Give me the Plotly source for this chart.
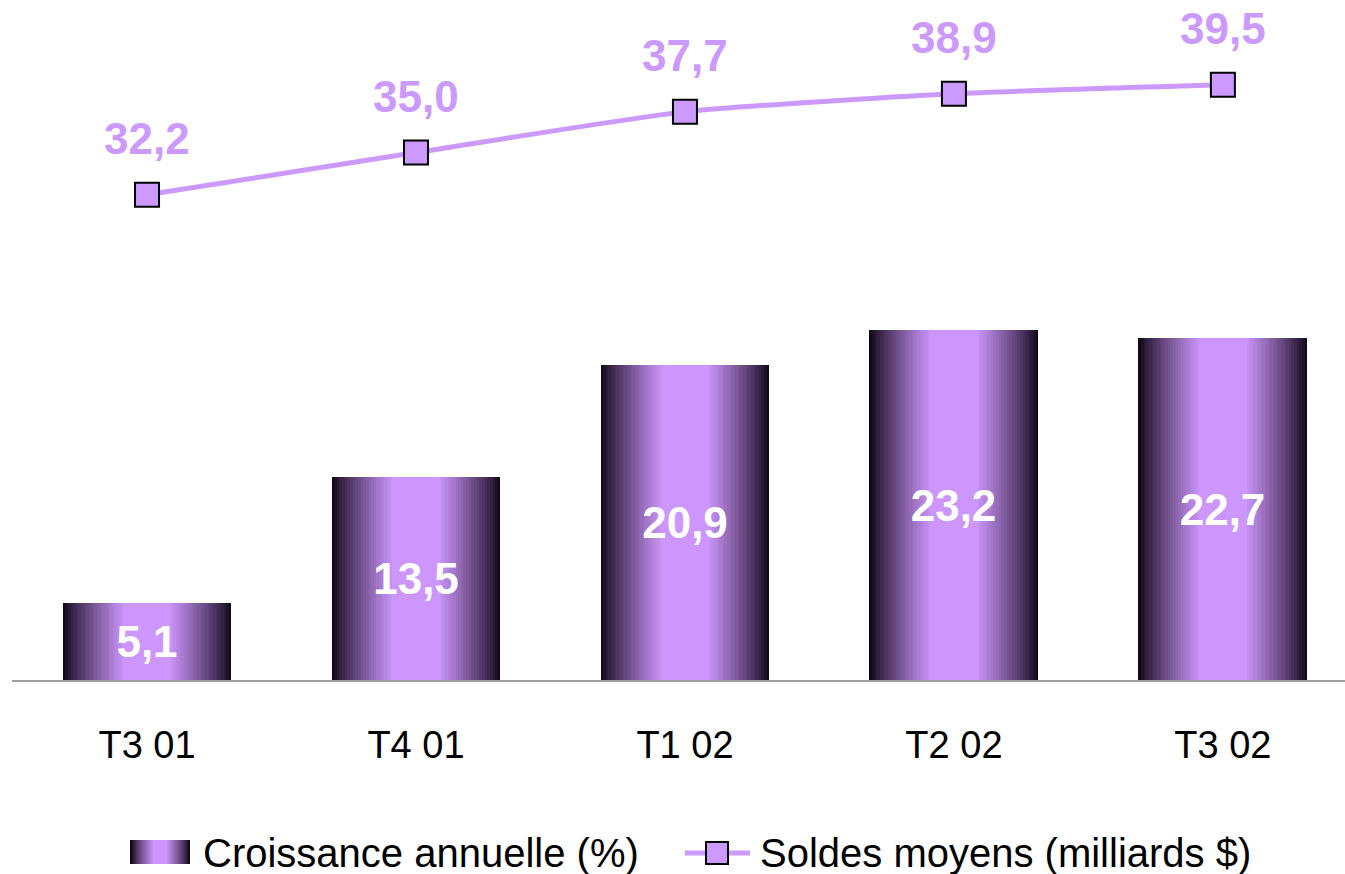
import plotly.graph_objects as go

# chart data
quarters = ["T3 01", "T4 01", "T1 02", "T2 02", "T3 02"]
growth_pct = [5.1, 13.5, 20.9, 23.2, 22.7]
avg_balances = [32.2, 35.0, 37.7, 38.9, 39.5]
legend_names = ["Croissance annuelle (%)", "Soldes moyens (milliards $)"]

W, H = 1345, 874
M_L, M_R, M_T, M_B = 12, 0, 10, 194
LIGHT = (204, 150, 252)
DARK = (18, 8, 24)
LINE_COLOR = "#CC99FF"
FONT = "Liberation Sans, Arial, sans-serif"
BAR_W = 0.628
N_LAYERS = 24


def fr(v):
    return f"{v:.1f}".replace(".", ",")


def mix(s):
    r, g, b = (round(d + (l - d) * s) for d, l in zip(DARK, LIGHT))
    return f"rgb({r},{g},{b})"


# screen pixel -> paper coords
def px_x(x):
    return (x - M_L) / (W - M_L - M_R)


def px_y(y):
    return (H - M_B - y) / (H - M_T - M_B)


fig = go.Figure()

# gradient bars: overlay of narrowing bars, lighter towards the center
for k in range(N_LAYERS):
    t = k / (N_LAYERS - 1)
    fig.add_trace(go.Bar(
        x=quarters, y=growth_pct, width=BAR_W * (1 - 0.72 * t),
        marker=dict(color=mix(t ** 0.85), line=dict(width=0)),
        showlegend=False, hoverinfo="skip"))

# value labels on the bars
fig.add_trace(go.Bar(
    x=quarters, y=growth_pct, width=BAR_W,
    marker=dict(color="rgba(0,0,0,0)", line=dict(width=0)),
    text=[fr(v) for v in growth_pct], textposition="inside",
    insidetextanchor="middle", constraintext="none",
    textfont=dict(family=FONT, size=44, color="white", weight="bold"),
    showlegend=False, hoverinfo="skip"))

fig.add_trace(go.Scatter(
    x=quarters, y=avg_balances, mode="lines+markers",
    line=dict(color=LINE_COLOR, width=5, shape="spline", smoothing=0.6),
    marker=dict(symbol="square", size=24, color=LINE_COLOR,
                line=dict(color="black", width=2)),
    showlegend=False, cliponaxis=False))

for q, v in zip(quarters, avg_balances):
    fig.add_annotation(x=q, y=v, text=fr(v), showarrow=False, yshift=56,
                       borderpad=0,
                       font=dict(family=FONT, size=44, color=LINE_COLOR, weight="bold"))

# manual legend
leg_y0, leg_y1 = 840, 864
x0, x1 = 130, 190
for k in range(12):
    t = k / 11
    half = (x1 - x0) / 2 * (1 - 0.75 * t)
    cx = (x0 + x1) / 2
    fig.add_shape(type="rect", xref="paper", yref="paper",
                  x0=px_x(cx - half), x1=px_x(cx + half),
                  y0=px_y(leg_y1), y1=px_y(leg_y0),
                  fillcolor=mix(t ** 0.85), line=dict(width=0), layer="above")
fig.add_annotation(xref="paper", yref="paper", x=px_x(201), y=px_y(853),
                   xanchor="left", yanchor="middle", showarrow=False,
                   text=legend_names[0], font=dict(family=FONT, size=40, color="black"))

fig.add_shape(type="line", xref="paper", yref="paper",
              x0=px_x(685), x1=px_x(750), y0=px_y(853), y1=px_y(853),
              line=dict(color=LINE_COLOR, width=5))
fig.add_shape(type="rect", xref="paper", yref="paper",
              x0=px_x(706), x1=px_x(728), y0=px_y(864), y1=px_y(842),
              fillcolor=LINE_COLOR, line=dict(color="black", width=2))
fig.add_annotation(xref="paper", yref="paper", x=px_x(758), y=px_y(853),
                   xanchor="left", yanchor="middle", showarrow=False,
                   text=legend_names[1], font=dict(family=FONT, size=40, color="black"))

fig.update_layout(
    width=W, height=H, barmode="overlay", bargap=0,
    margin=dict(l=M_L, r=M_R, t=M_T, b=M_B),
    paper_bgcolor="white", plot_bgcolor="white",
    font=dict(family=FONT, color="black"),
    xaxis=dict(range=[-0.502, 4.454], showline=True, linecolor="#A0A0A0",
               linewidth=2, showgrid=False, ticks="", ticklabelstandoff=30,
               tickfont=dict(size=38, color="black")),
    yaxis=dict(range=[0, 44.46], visible=False, showgrid=False),
)

# drop the default page margin so the figure fills the window exactly
fig.write_html("out.html", config={"displayModeBar": False},
               post_script="document.body.style.margin='0';")
